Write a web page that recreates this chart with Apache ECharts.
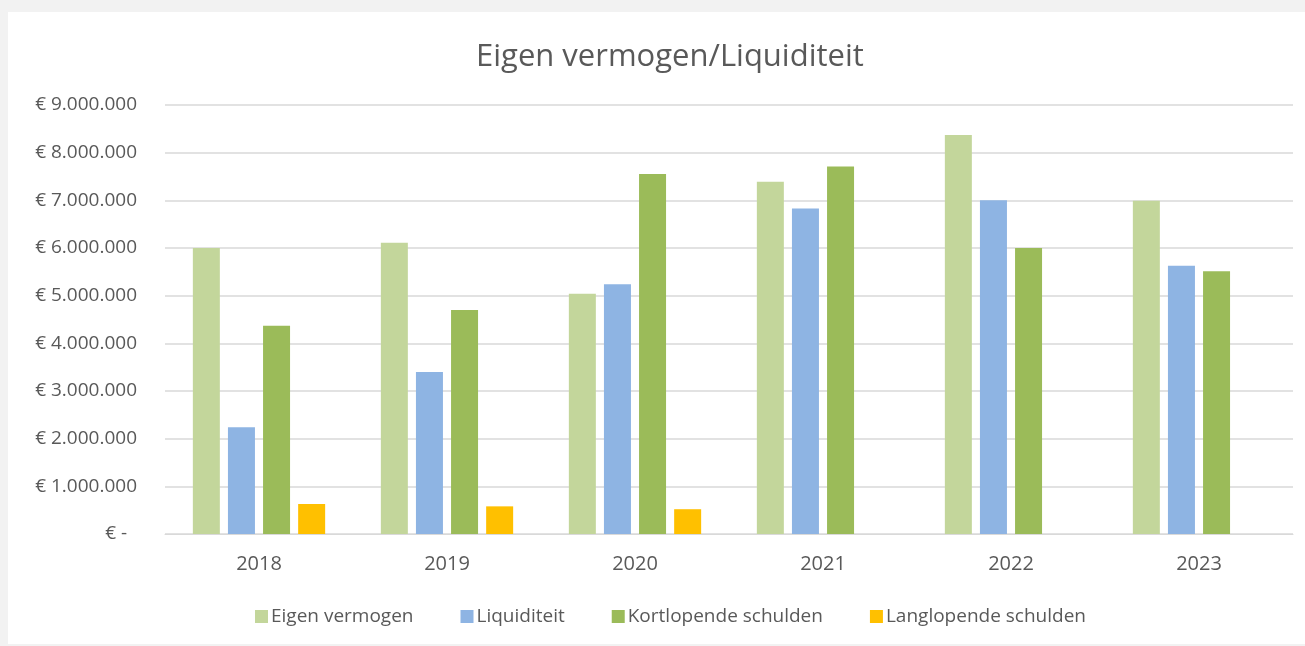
<!DOCTYPE html>
<html>
<head>
<meta charset="utf-8">
<script src="https://cdn.jsdelivr.net/npm/echarts@6/dist/echarts.min.js"></script>
<style>
  html, body { margin: 0; padding: 0; background: #f2f2f2; }
  #card { position: absolute; left: 8px; top: 12px; right: 0; bottom: 2px; background: #fff; }
  #main { position: absolute; left: 0; top: 0; width: 1305px; height: 646px; }
</style>
</head>
<body>
<div id="card"></div>
<div id="main"></div>
<script>
// jaren op de x-as
var years = ['2018', '2019', '2020', '2021', '2022', '2023'];
// waarden in euro
var eigenVermogen = [6000000, 6110000, 5040000, 7390000, 8370000, 6990000];
var liquiditeit = [2240000, 3400000, 5240000, 6830000, 7000000, 5630000];
var kortlopend = [4370000, 4700000, 7550000, 7710000, 6000000, 5510000];
var langlopend = [630000, 580000, 520000, null, null, null];

var txt = '#595959';
var font = '"Open Sans", "Noto Sans", sans-serif';

function euro(v) {
    if (v === 0) return '€ -\u00a0\u00a0';
    return '€ ' + String(v).replace(/\B(?=(\d{3})+(?!\d))/g, '.');
}

var myChart = echarts.init(document.getElementById('main'));
var option = {
    backgroundColor: 'transparent',
    animation: false,
    title: {
        text: 'Eigen vermogen/Liquiditeit',
        left: 471,
        top: 37,
        textStyle: { color: txt, fontSize: 31, fontWeight: 'normal', fontFamily: font }
    },
    legend: {
        top: 602,
        left: 250,
        itemWidth: 13,
        itemHeight: 13,
        itemGap: 47,
        icon: 'rect',
        textStyle: { color: txt, fontSize: 19, fontFamily: font, padding: [0, 0, 0, -2] }
    },
    grid: { left: 165, right: 12, top: 105, bottom: 112 },
    xAxis: {
        type: 'category',
        data: years,
        axisLine: { lineStyle: { color: '#d9d9d9' } },
        axisTick: { show: false },
        axisLabel: { color: txt, fontSize: 20, margin: 20, fontFamily: font }
    },
    yAxis: {
        type: 'value',
        min: 0,
        max: 9000000,
        interval: 1000000,
        axisLine: { show: false },
        axisTick: { show: false },
        splitLine: { lineStyle: { color: '#d9d9d9', width: 1.5 } },
        axisLabel: {
            color: txt, fontSize: 19, fontFamily: font,
            margin: 28,
            formatter: euro
        }
    },
    series: [
        { name: 'Eigen vermogen', type: 'bar', data: eigenVermogen, barWidth: 27, barGap: '30%', itemStyle: { color: '#c3d69b' } },
        { name: 'Liquiditeit', type: 'bar', data: liquiditeit, barWidth: 27, barGap: '30%', itemStyle: { color: '#8eb4e3' } },
        { name: 'Kortlopende schulden', type: 'bar', data: kortlopend, barWidth: 27, barGap: '30%', itemStyle: { color: '#9bbb59' } },
        { name: 'Langlopende schulden', type: 'bar', data: langlopend, barWidth: 27, barGap: '30%', itemStyle: { color: '#ffc000' } }
    ]
};
myChart.setOption(option);
</script>
</body>
</html>
